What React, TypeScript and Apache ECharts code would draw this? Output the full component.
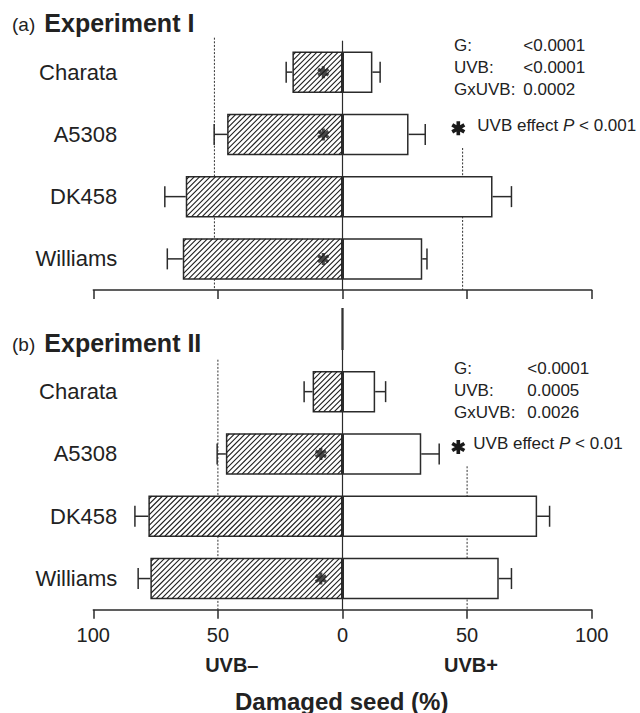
import React, { useEffect, useRef } from 'react';
import * as echarts from 'echarts';

// ---------------- data ----------------
const CATEGORIES = ['Charata', 'A5308', 'DK458', 'Williams'];

// Experiment I (damaged seed %, mean and standard error)
const EXP1_UVB_MINUS = [20.1, 46.3, 62.9, 64.1];
const EXP1_UVB_MINUS_SE = [2.5, 5.2, 8.4, 6.2];
const EXP1_UVB_PLUS = [12.0, 26.5, 60.2, 32.0];
const EXP1_UVB_PLUS_SE = [3.1, 6.7, 7.6, 1.9];
const EXP1_SIGNIFICANT = ['Charata', 'A5308', 'Williams'];
const EXP1_REF_LINES = [-51.4, 48.2];
const EXP1_STATS_LABELS = ['G:', 'UVB:', 'GxUVB:'];
const EXP1_STATS_VALUES = ['<0.0001', '<0.0001', '0.0002'];
const EXP1_EFFECT_P = '0.001';

// Experiment II
const EXP2_UVB_MINUS = [12.0, 46.8, 77.9, 77.1];
const EXP2_UVB_MINUS_SE = [3.4, 3.5, 5.4, 4.9];
const EXP2_UVB_PLUS = [13.1, 31.6, 78.1, 62.7];
const EXP2_UVB_PLUS_SE = [4.2, 7.2, 5.0, 5.1];
const EXP2_SIGNIFICANT = ['A5308', 'Williams'];
const EXP2_REF_LINES = [-50, 50];
const EXP2_STATS_LABELS = ['G:', 'UVB:', 'GxUVB:'];
const EXP2_STATS_VALUES = ['<0.0001', '0.0005', '0.0026'];
const EXP2_EFFECT_P = '0.01';

const X_MIN = -100;
const X_MAX = 100;
const X_INTERVAL = 50;

// ---------------- layout / style ----------------
const FONT = "'Liberation Sans', Arial, Helvetica, sans-serif";
const INK = '#222';
const LINE = '#2b2b2b';
const GRID_LEFT = 93.3;
const GRID_RIGHT = 48.3;
const BAR_W = 41.5;
const CAP = 10.5;
const HATCH_STEP = 5.3;
const STAR_D =
  'M37 0L63 0L63 100L37 100Z M86.8 13.74L99.8 36.26L13.2 86.26L0.2 63.74Z M99.8 63.74L86.8 86.26L0.2 36.26L13.2 13.74Z';

const PANELS = [
  {
    minus: EXP1_UVB_MINUS, minusSe: EXP1_UVB_MINUS_SE,
    plus: EXP1_UVB_PLUS, plusSe: EXP1_UVB_PLUS_SE,
    sig: EXP1_SIGNIFICANT, refs: EXP1_REF_LINES,
    statsL: EXP1_STATS_LABELS, statsV: EXP1_STATS_VALUES, effectP: EXP1_EFFECT_P,
    letter: '(a)', title: 'Experiment I',
    top: 41, height: 249, refTop: [-3.3, 107], zeroTop: -0.3, zeroThick: 0,
    sigX: -7.7,
    titleY: 31.7, statsX: [454, 523.3], statsY: 45,
    starXY: [458.3, 128.3], effectXY: [477.3, 125], showLabels: false,
  },
  {
    minus: EXP2_UVB_MINUS, minusSe: EXP2_UVB_MINUS_SE,
    plus: EXP2_UVB_PLUS, plusSe: EXP2_UVB_PLUS_SE,
    sig: EXP2_SIGNIFICANT, refs: EXP2_REF_LINES,
    statsL: EXP2_STATS_LABELS, statsV: EXP2_STATS_VALUES, effectP: EXP2_EFFECT_P,
    letter: '(b)', title: 'Experiment II',
    top: 360.5, height: 249.2, refTop: [-0.8, 105.8], zeroTop: -52.5, zeroThick: 42,
    sigX: -8.7,
    titleY: 351.7, statsX: [454, 527.3], statsY: 368,
    starXY: [458.3, 447], effectXY: [473.3, 443.7], showLabels: true,
  },
];

let shapeRegistered = false;
function ensureShape() {
  if (shapeRegistered) return;
  echarts.graphic.registerShape('asterisk', echarts.graphic.extendPath(STAR_D, {}) as any);
  shapeRegistered = true;
}

function buildOption() {
  const grid: any[] = [];
  const xAxis: any[] = [];
  const yAxis: any[] = [];
  const series: any[] = [];
  const graphic: any[] = [];

  PANELS.forEach((p, i) => {
    grid.push({ left: GRID_LEFT, right: GRID_RIGHT, top: p.top, height: p.height, containLabel: false });
    xAxis.push({
      type: 'value', gridIndex: i, min: X_MIN, max: X_MAX, interval: X_INTERVAL,
      axisLine: { show: true, onZero: false, lineStyle: { color: LINE, width: 1.5 } },
      axisTick: { show: true, length: 9, lineStyle: { color: LINE, width: 1.5 } },
      axisLabel: {
        show: p.showLabels, formatter: (v: number) => String(Math.abs(v)),
        fontSize: 20, color: INK, fontFamily: FONT, margin: 15,
      },
      splitLine: { show: false },
    });
    yAxis.push({
      type: 'category', gridIndex: i, data: CATEGORIES, inverse: true,
      axisLine: { show: false }, axisTick: { show: false },
      axisLabel: { fontSize: 22, color: INK, fontFamily: FONT, margin: -24 },
      splitLine: { show: false },
    });

    const common = { xAxisIndex: i, yAxisIndex: i };

    // dotted reference lines (behind bars)
    series.push({
      ...common, type: 'custom', z: 1, silent: true,
      encode: { x: 0, y: 1 },
      data: p.refs.map((v) => [v, 0]),
      renderItem: (params: any, api: any) => {
        const cs = params.coordSys;
        const x = api.coord([api.value(0), 0])[0];
        return {
          type: 'line',
          shape: { x1: x, y1: cs.y + p.refTop[params.dataIndex], x2: x, y2: cs.y + cs.height },
          style: { stroke: '#333', lineWidth: 1, lineDash: [2, 1.6] },
        };
      },
    });

    // bars
    series.push({
      ...common, type: 'bar', name: 'UVB–', z: 2, barWidth: BAR_W, barGap: '-100%',
      data: p.minus.map((v) => -v),
      itemStyle: { color: '#fff', borderColor: LINE, borderWidth: 1.5 },
    });
    series.push({
      ...common, type: 'bar', name: 'UVB+', z: 2, barWidth: BAR_W, barGap: '-100%',
      data: p.plus,
      itemStyle: { color: '#fff', borderColor: LINE, borderWidth: 1.5 },
    });

    // hatching of UVB– bars
    series.push({
      ...common, type: 'custom', z: 3, silent: true,
      encode: { x: 1, y: 0 },
      data: p.minus.map((v, k) => [k, -v]),
      renderItem: (params: any, api: any) => {
        const c = api.value(0);
        const a = api.coord([0, c]);
        const b = api.coord([api.value(1), c]);
        const inset = 0.75;
        const x0 = Math.min(a[0], b[0]) + inset;
        const x1 = Math.max(a[0], b[0]) - inset;
        const y0 = a[1] - BAR_W / 2 + inset;
        const y1 = a[1] + BAR_W / 2 - inset;
        const children: any[] = [];
        for (let k = x0 + y0 + HATCH_STEP / 2; k < x1 + y1; k += HATCH_STEP) {
          const xa = Math.max(x0, k - y1);
          const xb = Math.min(x1, k - y0);
          if (xb - xa > 0.2) {
            children.push({
              type: 'line',
              shape: { x1: xa, y1: k - xa, x2: xb, y2: k - xb },
              style: { stroke: '#1e1e1e', lineWidth: 1.1 },
            });
          }
        }
        return { type: 'group', children };
      },
    });

    // error bars
    const errSeries = (vals: number[], se: number[], sign: number) => ({
      ...common, type: 'custom', z: 4, silent: true,
      encode: { x: [1, 2], y: 0 },
      data: vals.map((v, k) => [k, sign * v, sign * (v + se[k])]),
      renderItem: (params: any, api: any) => {
        const c = api.value(0);
        const a = api.coord([api.value(1), c]);
        const b = api.coord([api.value(2), c]);
        const st = { stroke: LINE, lineWidth: 1.5 };
        return {
          type: 'group',
          children: [
            { type: 'line', shape: { x1: a[0], y1: a[1], x2: b[0], y2: b[1] }, style: st },
            { type: 'line', shape: { x1: b[0], y1: b[1] - CAP, x2: b[0], y2: b[1] + CAP }, style: st },
          ],
        };
      },
    });
    series.push(errSeries(p.minus, p.minusSe, -1));
    series.push(errSeries(p.plus, p.plusSe, 1));

    // zero line
    series.push({
      ...common, type: 'custom', z: 5, silent: true,
      encode: { x: 0, y: 1 },
      data: [[0, 0]],
      renderItem: (params: any, api: any) => {
        const cs = params.coordSys;
        const x = api.coord([0, 0])[0];
        const top = cs.y + p.zeroTop;
        const children: any[] = [
          { type: 'line', shape: { x1: x, y1: top, x2: x, y2: cs.y + cs.height }, style: { stroke: LINE, lineWidth: 1.2 } },
        ];
        if (p.zeroThick > 0) {
          children.push({ type: 'line', shape: { x1: x, y1: top, x2: x, y2: top + p.zeroThick }, style: { stroke: '#333', lineWidth: 2.2 } });
        }
        return { type: 'group', children };
      },
    });

    // significance asterisks
    series.push({
      ...common, type: 'scatter', z: 6, silent: true,
      symbol: 'path://' + STAR_D, symbolSize: 12,
      itemStyle: { color: '#1a1a1a' },
      data: p.sig.map((name) => [p.sigX, CATEGORIES.indexOf(name)]),
    });

    // texts
    graphic.push({
      type: 'text', x: 12, y: p.titleY - 6.8,
      style: { text: p.letter, fontSize: 19, fontFamily: FONT, fill: INK, align: 'left', verticalAlign: 'middle' },
    });
    graphic.push({
      type: 'text', x: 44.3, y: p.titleY - 8.9,
      style: { text: p.title, fontSize: 25, fontWeight: 'bold', fontFamily: FONT, fill: INK, align: 'left', verticalAlign: 'middle' },
    });
    p.statsL.forEach((lab, k) => {
      graphic.push({
        type: 'text', x: p.statsX[0], y: p.statsY + k * 22.2,
        style: { text: lab, fontSize: 17, fontFamily: FONT, fill: INK, align: 'left', verticalAlign: 'middle' },
      });
      graphic.push({
        type: 'text', x: p.statsX[1], y: p.statsY + k * 22.2,
        style: { text: p.statsV[k], fontSize: 17, fontFamily: FONT, fill: INK, align: 'left', verticalAlign: 'middle' },
      });
    });
    const s = 0.14;
    graphic.push({
      type: 'asterisk', x: p.starXY[0] - 50 * s, y: p.starXY[1] - 50 * s, scaleX: s, scaleY: s,
      style: { fill: '#1a1a1a' },
    });
    graphic.push({
      type: 'text', x: p.effectXY[0], y: p.effectXY[1],
      style: {
        text: 'UVB effect {i|P} < ' + p.effectP,
        fontSize: 17, fontFamily: FONT, fill: INK, align: 'left', verticalAlign: 'middle',
        rich: { i: { fontSize: 17, fontFamily: FONT, fontStyle: 'italic', fill: INK } },
      },
    });
  });

  graphic.push({
    type: 'text', x: 231.8, y: 664.7,
    style: { text: 'UVB–', fontSize: 20, fontWeight: 'bold', fontFamily: FONT, fill: INK, align: 'center', verticalAlign: 'middle' },
  });
  graphic.push({
    type: 'text', x: 471, y: 664.7,
    style: { text: 'UVB+', fontSize: 20, fontWeight: 'bold', fontFamily: FONT, fill: INK, align: 'center', verticalAlign: 'middle' },
  });
  graphic.push({
    type: 'text', x: 341.7, y: 701,
    style: { text: 'Damaged seed (%)', fontSize: 24, fontWeight: 'bold', fontFamily: FONT, fill: INK, align: 'center', verticalAlign: 'middle' },
  });

  return {
    animation: false,
    backgroundColor: '#fff',
    textStyle: { fontFamily: FONT },
    grid, xAxis, yAxis, series, graphic,
  };
}

export default function App() {
  const ref = useRef<HTMLDivElement>(null);
  useEffect(() => {
    if (!ref.current) return;
    ensureShape();
    const chart = echarts.init(ref.current, undefined, { renderer: 'svg' });
    chart.setOption(buildOption() as any);
    return () => chart.dispose();
  }, []);
  return (
    <div
      ref={ref}
      style={{ position: 'fixed', left: 0, top: 0, width: 640, height: 713, background: '#fff' }}
    />
  );
}
